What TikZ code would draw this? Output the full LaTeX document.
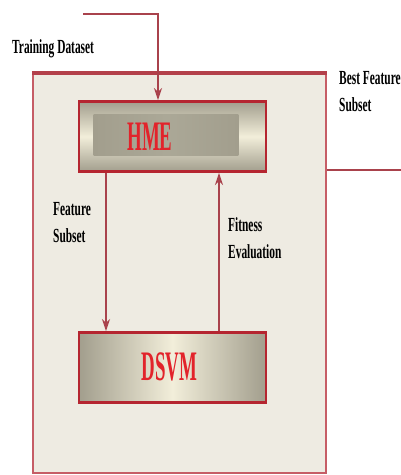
\documentclass[tikz,border=0pt]{standalone}
\usepackage{fontspec}
\setmainfont{Liberation Serif}
\newfontfamily\smallfont{Liberation Serif}[FakeStretch=0.57]
\newfontfamily\bigfont{Liberation Serif}[FakeStretch=0.45]
\usetikzlibrary{calc,arrows.meta}

\definecolor{framebg}{HTML}{EEEBE2}
\definecolor{framered}{HTML}{C65D66}
\definecolor{topred}{HTML}{B3404A}
\definecolor{flowred}{HTML}{A9424C}
\definecolor{boxred}{HTML}{B52530}
\definecolor{textred}{HTML}{E2232B}
\definecolor{graybox}{HTML}{A29E8D}
\definecolor{graycore}{HTML}{ABA897}
\definecolor{cream}{HTML}{F2EEDA}

\tikzset{
  framebox/.style={draw=framered, fill=framebg, line width=2.4pt, minimum width=293pt, minimum height=399pt, inner sep=0pt},
  procbox/.style={draw=boxred, line width=2.8pt, minimum width=187pt, minimum height=70pt, inner sep=0pt},
  flowline/.style={draw=flowred, line width=2.8pt},
  flowarrow/.style={flowline, -{Stealth[length=12pt,width=8pt]}},
  steptext/.style={font=\smallfont\bfseries\fontsize{20}{27}\selectfont, align=left, inner sep=0pt, anchor=base west},
  boxtext/.style={font=\bigfont\bfseries\fontsize{42}{42}\selectfont, text=textred, inner sep=0pt, anchor=base}
}

\begin{document}
\begin{tikzpicture}[x=1pt,y=-1pt]
			%%%%% START %%%%%
			\useasboundingbox (0,0) rectangle (401,475);
			
			\node[framebox] (frame) at (179.5,273.5) {};
			\draw[draw=topred, line width=4.5pt] (frame.north west) -- (frame.north east);
			
			\node[procbox, top color=graybox, bottom color=graybox, middle color=cream] (hme) at (172.5,136.5) {};
			\fill[left color=graybox, right color=graybox, middle color=graycore] ($(hme.north west)+(16,14)$) rectangle ($(hme.south east)+(-29,-17)$);
			\node[procbox, left color=graybox, right color=graybox, middle color=cream] (dsvm) at (172.5,367.5) {};
			
			\node[boxtext] (hmetext) at (150,150) {HME};
			\node[boxtext] (dsvmtext) at (169.5,380) {DSVM};
			
			\node[steptext] (trainlbl) at (12,53) {Training Dataset};
			\node[steptext] (featlbl) at (53,242) {Feature\\Subset};
			\node[steptext] (fitlbl) at (228,258) {Fitness\\Evaluation};
			\node[steptext] (bestlbl) at (339,111) {Best Feature\\Subset};
			
			\coordinate (trainin) at (83,14);
			\coordinate (bestout) at (401,170);
			
			\draw[flowarrow] (trainin) -| ([xshift=-14.5pt]hme.north);
			\draw[flowarrow] ([xshift=-66.5pt]hme.south) -- ([xshift=-66.5pt]dsvm.north);
			\draw[flowarrow] ([xshift=46.5pt]dsvm.north) -- ([xshift=46.5pt]hme.south);
			\draw[flowline] (frame.east |- bestout) -- (bestout);
			
			%%%%% END %%%%%
\end{tikzpicture}
\end{document}
